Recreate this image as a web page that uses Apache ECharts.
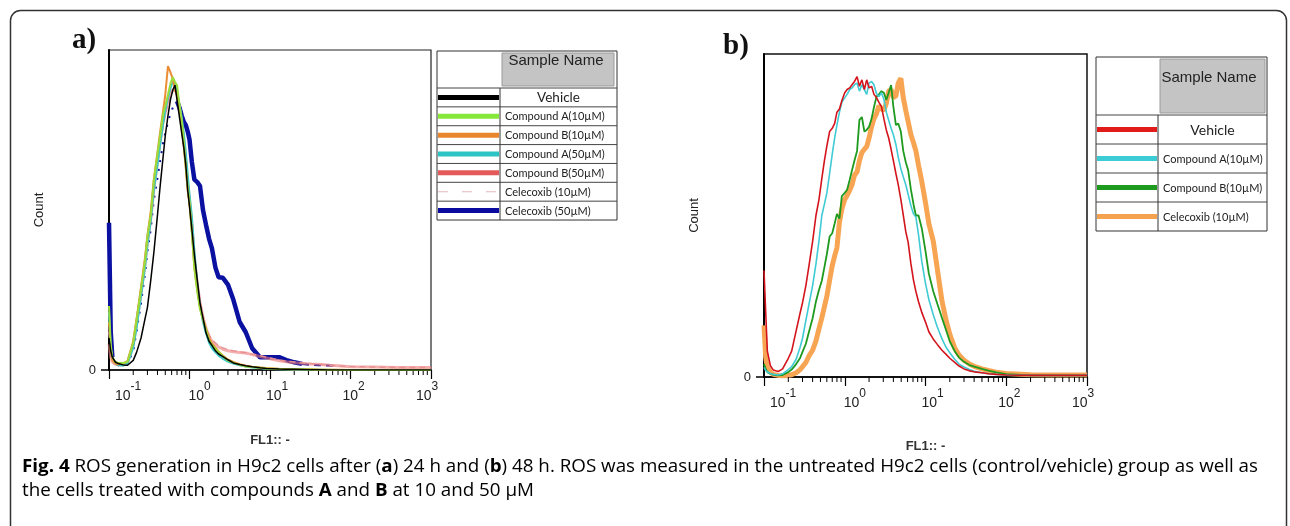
<!DOCTYPE html>
<html><head><meta charset="utf-8">
<script src="https://cdn.jsdelivr.net/npm/echarts@6/dist/echarts.min.js"></script>
<style>html,body{margin:0;padding:0;background:#fff}#c{width:1290px;height:526px}</style>
</head><body><div id="c"></div>
<script>
// ---------------- DATA ----------------
const xTicks = [0.1, 1, 10, 100, 1000];
const xTickExps = ['-1', '0', '1', '2', '3'];
const minorTicks = [0.2,0.3,0.4,0.5,0.6,0.7,0.8,0.9, 2,3,4,5,6,7,8,9, 20,30,40,50,60,70,80,90, 200,300,400,500,600,700,800,900];
const yTicks = [0];

// panel a (24 h) – FL1 channel values and counts
const xA = [0.1,0.105,0.11,0.12,0.13,0.15,0.17,0.2,0.22,0.25,
  0.28,0.3,0.33,0.36,0.4,0.43,0.47,0.5,0.54,0.58,
  0.62,0.66,0.7,0.75,0.8,0.85,0.9,0.95,1.0,1.07,
  1.15,1.25,1.35,1.47,1.6,1.75,1.9,2.1,2.3,2.6,
  3.0,3.5,4.2,5.0,6.0,7.5,9.0,11,13,16,
  20,25,32,40,55,70,100,200,400,1000];
const aVehicle = [10,6,4,2.5,2,1.6,1.5,3,5.5,10,
  16,19.5,28,36.5,48.4,57,66.6,73.2,79.4,84.5,
  87.5,89,84.4,79,74,69.5,64,56.2,51.2,44,
  36,28,21,16.3,11.7,9,7.7,6,5,4.2,
  3.2,2.2,1.7,1.3,1.0,0.7,0.5,0.4,0.3,0.25,
  0.2,0.15,0.1,0.1,0,0,0,0,0,0];
const aCompA10 = [20,8,4,2.5,2.2,2.2,2.6,8.6,15.6,25.4,
  34,41.7,48.5,59,67.5,73,80,82.5,86,89.5,
  91.5,90,89,83,78,71.2,63.6,57.2,52.7,43,
  31.7,24.4,19,15.8,12.7,9.3,7.8,6.7,5.6,4.3,
  3,2.3,1.6,1.1,0.9,0.7,0.5,0.4,0.3,0.25,
  0.2,0.2,0.15,0.1,0.1,0,0,0,0,0];
const aCompB10 = [15,6,3,2,1.8,2,2.8,9,16,26,
  35,42,49.5,59.5,68,74,81,86,95,93,
  91,87.5,86,82,77,70,63,56,52,43.5,
  32,25,19.5,16,13,10,8.3,7,5.8,4.5,
  3.3,2.5,1.8,1.3,1,0.8,0.6,0.5,0.4,0.3,
  0.25,0.2,0.2,0.15,0.1,0.1,0,0,0,0];
const aCompA50 = [18,7,3.5,2,1.5,1.4,2,7,13,23,
  32,39,46.5,56,64,70,77,81,85,88,
  90,89.5,87,83,79,74,68,61,55,48,
  37,27,20,15,11.5,8.5,6.8,5.5,4.5,3.5,
  2.6,2,1.5,1.1,0.8,0.6,0.4,0.3,0.2,0.2,
  0.15,0.1,0.1,0.1,0,0,0,0,0,0];
const aCompB50 = [8,4,2.5,1.8,1.6,1.6,2.3,8,14.5,24,
  33,40,47,56.5,65,71,77.5,80.5,84,86.5,
  87.5,88,86,82,77,71,65,58,53,45.5,
  35,27,21,16.5,13,10.5,9,8,7.2,6.5,
  6,5.7,5.5,5.3,4.8,4.2,3.8,3.3,2.9,2.6,
  2.3,2.1,1.9,1.8,1.5,1.3,1,0.9,0.8,0.8];
const aCele10 = [12,5,3,2,1.7,1.7,2.4,7.5,14,23.5,
  32,39,46,55,64,70,76,79.5,83,86,
  87,87.5,86.5,83,78,72,66,59,54,46,
  36,28,22,17,13.5,11,9.5,8.5,7.6,7,
  6.4,6,5.7,5.4,5,4.5,4,3.5,3.1,2.8,
  2.5,2.2,2,1.8,1.5,1.3,1.1,0.9,0.8,0.8];
const aCele50 = [46,12,4,2,1.5,1.3,2,6,12,21,
  30,37,44,53,60,65,71,74,77.5,80,
  82,83.5,84,82,79.5,77.5,76.5,74.5,72,65,
  59.5,58.7,57.5,50,45.5,41,38,32,29,28.8,
  26.7,22,15,11.8,6.8,4,4,4,4,3.1,
  2.4,1.9,1.6,1.5,1.4,1.2,null,null,null,null];

// panel b (48 h)
const xB = [0.1,0.105,0.11,0.12,0.13,0.15,0.17,0.2,0.22,0.25,
  0.28,0.3,0.33,0.36,0.4,0.44,0.48,0.52,0.56,0.6,
  0.65,0.7,0.75,0.8,0.86,0.92,1.0,1.07,1.15,1.23,
  1.32,1.42,1.52,1.63,1.75,1.87,2.0,2.15,2.3,2.47,
  2.65,2.85,3.05,3.27,3.5,3.75,4.0,4.3,4.6,4.95,
  5.3,5.7,6.1,6.6,7.1,7.6,8.2,9.0,10,11,
  12.5,14,16,18,20,23,26,30,35,40,
  50,60,75,100,200,400,1000];
const bVehicle = [33,20,8,3.5,2.2,1.7,2.5,5.8,8,14.3,
  19.8,23,28.3,34.3,42,50,55,61.4,67,71.5,
  76,77,78.5,82,83,85.5,88,89,89.5,90.5,
  91.5,93,90,92,89,92,89.5,90,87.5,86.5,
  85,83.7,80,76.5,74,70.5,67,63,59.5,55,
  50.2,45,41.7,35,30,26.5,23.3,20,17,14,
  11.7,10.1,8.3,7,5.8,4.5,3.4,2.5,1.9,1.6,
  1.3,1.0,0.8,0.6,0.5,0.5,0.5];
const bCompA10 = [3,2,1.5,1,0.8,0.6,1,2.3,3.2,5.5,
  9.2,12,17.5,22.4,28.3,35,42.2,50,53.5,57,
  63,69,74,78,82,85,86.5,87.5,89,89.5,
  90.5,91,88.5,90.5,89,87.5,91,91.5,90.5,87.8,
  86.8,88,86,82,79.5,77,75,72,68,64.5,
  62,59.5,56.5,53,50.5,49.5,44,35.7,29,24,
  19.2,15.5,11.8,9.2,7.5,5.5,4,3.1,2.3,1.8,
  1.3,1.0,0.8,0.6,0.5,0.5,0.5];
const bCompB10 = [4,2.5,1.5,1,0.7,0.5,0.6,1.5,2.3,4,
  5.9,7.8,10.3,13.9,18.2,23.4,27,29.8,34,38,
  43.5,44.5,47.5,50.5,49,56,57,58,61,64,
  67,70,79.6,80.5,76,76.5,77.5,80,83.5,86.8,
  87.5,88.5,88,85.8,88,90.4,83.7,78,78.5,76,
  70,66.5,64,58,53.5,50,50,46,39,32,
  26.5,22.7,18.3,14.5,11,8,6,4.7,3.7,3.2,
  2.5,2,1.4,0.9,0.5,0.5,0.5];
const bCele10 = [16,6,3,1.5,0.8,0.5,0.4,0.5,0.7,1.3,
  2.3,3.2,4.5,6.5,8.3,11.2,15,18.3,21.8,25,
  30,34.5,37.5,40,48,52,55,56.2,57.8,59.5,
  62.5,63.5,67,69.5,70.5,71.3,74,77.5,80,81.5,
  84,83,82.5,84.7,88.5,89,86.5,87,91,92.5,
  86.5,82.5,79,75,72.5,70,65.5,60.5,54,47.5,
  42,33.5,23.5,17.5,13.2,9,6.8,5.2,4,3.3,
  2.5,2,1.5,1.1,0.7,0.6,0.6];

const legendANames = ['Vehicle','Compound A(10µM)','Compound B(10µM)','Compound A(50µM)','Compound B(50µM)','Celecoxib (10µM)','Celecoxib (50µM)'];
const legendBNames = ['Vehicle','Compound A(10µM)','Compound B(10µM)','Celecoxib (10µM)'];
const caption1 = [['Fig. 4',1],[' ROS generation in H9c2 cells after (',0],['a',1],[') 24 h and (',0],['b',1],[') 48 h. ROS was measured in the untreated H9c2 cells (control/vehicle) group as well as',0]];
const caption2 = [['the cells treated with compounds ',0],['A',1],[' and ',0],['B',1],[' at 10 and 50 µM',0]];

// ---------------- STYLE ----------------
const FONT = '"Liberation Sans", Arial, sans-serif';
const LFONT = 'Lato, "Open Sans", sans-serif';
const legendAColors = ['#000000','#86e83a','#e8862e','#2cc4c4','#e45a5a','#e2b8b8','#0a0aa0'];
const legendBColors = ['#e21a1a','#3cccd6','#1e9a1e','#f5a24e'];
const labelShift = [19, 10, 7, 3, -4];
// index ranges of the Celecoxib (50µM) trace drawn with each stroke style
const cele50Solid = [[0, 2], [22, 51]];
const cele50Dots = [[2, 22]];
const cele50Dash = [[51, 55]];

function pairs(xs, ys, ranges) {
  const out = [];
  for (let i = 0; i < xs.length; i++) {
    const inside = !ranges || ranges.some(r => i >= r[0] && i <= r[1]);
    out.push([xs[i], (inside && ys[i] !== null) ? ys[i] : '-']);
  }
  return out;
}

const tickRich = {};
labelShift.forEach((s, i) => {
  tickRich['b' + i] = {fontFamily: FONT, fontSize: 14, color: '#222', padding: [8, 0, 0, Math.max(0, 2 * s)]};
  tickRich['s' + i] = {fontFamily: FONT, fontSize: 12, color: '#222', padding: [0, Math.max(0, -2 * s), 11, 0]};
});
function tickFormatter(v) {
  let idx = 0, best = 1e9;
  xTicks.forEach((t, i) => { const d = Math.abs(Math.log10(v) - Math.log10(t)); if (d < best) { best = d; idx = i; } });
  return '{b' + idx + '|10}{s' + idx + '|' + xTickExps[idx] + '}';
}

function xAxisCfg(gi, nameGap) {
  return {
    type: 'log', logBase: 10, gridIndex: gi, min: 0.1, max: 1000,
    name: 'FL1:: -', nameLocation: 'middle', nameGap: nameGap,
    nameTextStyle: {fontFamily: FONT, fontSize: 13, fontWeight: 'bold', color: '#333'},
    axisLine: {show: true, onZero: false, lineStyle: {color: '#000', width: 1.5}},
    axisTick: {show: true, customValues: xTicks, length: 9, lineStyle: {color: '#000', width: 1.2}},
    minorTick: {show: false}, splitLine: {show: false}, minorSplitLine: {show: false},
    axisLabel: {customValues: xTicks, margin: 11, formatter: tickFormatter, rich: tickRich}
  };
}
function yAxisCfg(gi) {
  return {
    type: 'value', gridIndex: gi, min: 0, max: 100,
    name: 'Count', nameLocation: 'middle', nameGap: 63, nameRotate: 90,
    nameTextStyle: {fontFamily: FONT, fontSize: 13, color: '#222'},
    axisLine: {show: true, onZero: false, lineStyle: {color: '#000', width: 2}},
    axisTick: {show: true, customValues: yTicks, length: 8, lineStyle: {color: '#000', width: 1.5}},
    axisLabel: {customValues: yTicks, margin: 13, fontFamily: FONT, fontSize: 13, color: '#222'},
    splitLine: {show: false}
  };
}
function lineSeries(name, gi, xs, ys, color, width, type, z, ranges) {
  return {
    name: name, type: 'line', xAxisIndex: gi, yAxisIndex: gi, data: pairs(xs, ys, ranges),
    showSymbol: false, symbol: 'none', smooth: false, z: z, connectNulls: false,
    lineStyle: {color: color, width: width, type: type || 'solid'}, silent: true
  };
}
function minorTickSeries(gi) {
  return {
    type: 'custom', xAxisIndex: gi, yAxisIndex: gi, clip: false, silent: true, z: 3,
    data: minorTicks.map(v => [v, 0]), encode: {x: 0, y: 1},
    renderItem: function (params, api) {
      const p = api.coord([api.value(0), 0]);
      return {type: 'line', shape: {x1: p[0], y1: p[1], x2: p[0], y2: p[1] + 5}, style: {stroke: '#000', lineWidth: 1}};
    }
  };
}

function buildLegend(c) {
  const els = [];
  const n = c.names.length;
  const yEnd = c.yH + c.rowH * n;
  els.push({type: 'rect', shape: {x: c.x0, y: c.y0, width: c.x1 - c.x0, height: yEnd - c.y0},
    style: {fill: '#fff', stroke: '#333', lineWidth: 1}, z: 10});
  els.push({type: 'rect', shape: {x: c.gray[0], y: c.gray[1], width: c.gray[2], height: c.gray[3]},
    style: {fill: '#c4c4c4', stroke: '#9a9a9a', lineWidth: 1}, z: 11});
  els.push({type: 'text', x: c.sample[0], y: c.sample[1], z: 12,
    style: {text: 'Sample Name', font: '15px ' + FONT, fill: '#222', textAlign: 'center', textVerticalAlign: 'middle'}});
  for (let i = 0; i < n; i++) {
    const yT = c.yH + c.rowH * i;
    els.push({type: 'line', shape: {x1: c.x0, y1: yT, x2: c.x1, y2: yT}, style: {stroke: '#444', lineWidth: 1}, z: 11});
    const yc = yT + c.rowH / 2;
    els.push({type: 'line', shape: {x1: c.x0 + 1, y1: yc, x2: c.split - 1, y2: yc}, z: 12,
      style: {stroke: c.colors[i], lineWidth: c.dashed[i] ? 1.2 : 5, lineDash: c.dashed[i] ? [10, 14] : null}});
    if (i === 0) {
      els.push({type: 'text', x: (c.split + c.x1) / 2, y: yc + 0.5, z: 12,
        style: {text: c.names[i], font: c.vehFont + 'px ' + LFONT, fill: '#222', textAlign: 'center', textVerticalAlign: 'middle'}});
    } else {
      els.push({type: 'text', x: c.split + 5, y: yc + 0.5, z: 12,
        style: {text: c.names[i], font: c.itemFont + 'px ' + LFONT, fill: '#222', textAlign: 'left', textVerticalAlign: 'middle'}});
    }
  }
  els.push({type: 'line', shape: {x1: c.split, y1: c.yH, x2: c.split, y2: yEnd}, style: {stroke: '#333', lineWidth: 1}, z: 11});
  return els;
}

// caption: tall font compressed horizontally for the condensed look
const mctx = document.createElement('canvas').getContext('2d');
const CAPSIZE = 18;
function segWidth(segs) {
  let w = 0;
  segs.forEach(s => { mctx.font = (s[1] ? '700 ' : '400 ') + CAPSIZE + 'px "Open Sans"'; w += mctx.measureText(s[0]).width; });
  return w;
}
const capScale = 1236 / segWidth(caption1);
function richLine(segs) { return segs.map(s => '{' + (s[1] ? 'b' : 'n') + '|' + s[0] + '}').join(''); }
const capRich = {
  n: {fontFamily: '"Open Sans"', fontSize: CAPSIZE, fontWeight: 400, color: '#2a2a2a'},
  b: {fontFamily: '"Open Sans"', fontSize: CAPSIZE, fontWeight: 700, color: '#2a2a2a'}
};

const graphics = [
  {type: 'rect', shape: {x: 10.5, y: 10.5, width: 1276, height: 560, r: 10}, style: {fill: 'none', stroke: '#333', lineWidth: 1.5}, z: 0},
  {type: 'text', x: 72, y: 26, style: {text: 'a)', font: 'bold 29px "Liberation Serif", serif', fill: '#111'}},
  {type: 'text', x: 723, y: 32, style: {text: 'b)', font: 'bold 29px "Liberation Serif", serif', fill: '#111'}},
  {type: 'text', x: 22, y: 467, scaleX: capScale, style: {text: richLine(caption1), rich: capRich, textVerticalAlign: 'middle'}},
  {type: 'text', x: 22, y: 491, scaleX: capScale, style: {text: richLine(caption2), rich: capRich, textVerticalAlign: 'middle'}}
].concat(buildLegend({
  x0: 437, x1: 617, y0: 51, yH: 88, rowH: 18.86, split: 500, gray: [502, 53, 112, 33], sample: [556, 61],
  names: legendANames, colors: legendAColors, dashed: [0,0,0,0,0,1,0], vehFont: 13.5, itemFont: 11
})).concat(buildLegend({
  x0: 1096, x1: 1267, y0: 57, yH: 115, rowH: 29, split: 1158, gray: [1160, 59, 105, 54], sample: [1209, 78],
  names: legendBNames, colors: legendBColors, dashed: [0,0,0,0], vehFont: 14, itemFont: 11
}));

const option = {
  animation: false,
  textStyle: {fontFamily: FONT},
  grid: [
    {left: 109, top: 50, width: 322, height: 320, show: true, borderColor: '#222', borderWidth: 1.2, outerBoundsMode: 'none'},
    {left: 764, top: 54, width: 323, height: 323, show: true, borderColor: '#111', borderWidth: 1.5, outerBoundsMode: 'none'}
  ],
  xAxis: [xAxisCfg(0, 64), xAxisCfg(1, 63)],
  yAxis: [yAxisCfg(0), yAxisCfg(1)],
  series: [
    lineSeries('Celecoxib (50µM)', 0, xA, aCele50, '#0a10a0', 4.5, 'solid', 2, cele50Solid),
    lineSeries('Celecoxib (50µM)', 0, xA, aCele50, '#0a10a0', 2, [2, 7], 2, cele50Dots),
    lineSeries('Celecoxib (50µM)', 0, xA, aCele50, '#0a10a0', 2, [7, 5], 2, cele50Dash),
    lineSeries('Celecoxib (10µM)', 0, xA, aCele10, '#e2b4b4', 1.5, [6, 4], 3),
    lineSeries('Compound B(50µM)', 0, xA, aCompB50, 'rgba(236,120,120,0.6)', 3, 'solid', 4),
    lineSeries('Compound A(50µM)', 0, xA, aCompA50, '#3cc6c6', 2, 'solid', 5),
    lineSeries('Compound B(10µM)', 0, xA, aCompB10, '#ea8d35', 2, 'solid', 6),
    lineSeries('Compound A(10µM)', 0, xA, aCompA10, '#9cdc3a', 2, 'solid', 7),
    lineSeries('Vehicle', 0, xA, aVehicle, '#000000', 1.5, 'solid', 8),
    lineSeries('Celecoxib (10µM)', 1, xB, bCele10, '#f7a553', 5, 'solid', 2),
    lineSeries('Compound B(10µM)', 1, xB, bCompB10, '#1e9a1e', 1.8, 'solid', 3),
    lineSeries('Compound A(10µM)', 1, xB, bCompA10, '#3fcad4', 1.6, 'solid', 4),
    lineSeries('Vehicle', 1, xB, bVehicle, '#d4141c', 1.6, 'solid', 5),
    minorTickSeries(0),
    minorTickSeries(1)
  ],
  graphic: graphics
};
const chart = echarts.init(document.getElementById('c'), null, {renderer: 'canvas'});
chart.setOption(option);
</script>
</body></html>
